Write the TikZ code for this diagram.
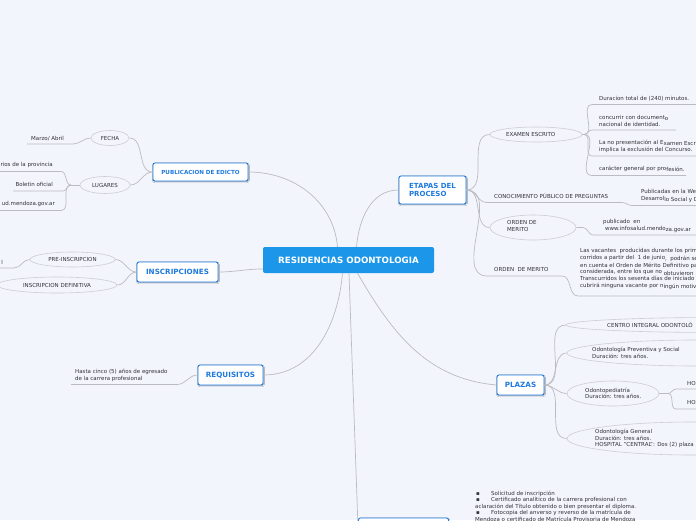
\documentclass[tikz,border=0pt]{standalone}
\usepackage{fontspec}
\setmainfont{DejaVu Sans}
\usetikzlibrary{shapes.geometric,shadows.blur}
\definecolor{bgc}{RGB}{243,245,252}
\definecolor{blu}{RGB}{30,122,222}
\definecolor{cfill}{RGB}{27,150,232}
\definecolor{lnc}{RGB}{188,188,192}
\definecolor{elc}{RGB}{205,205,210}
\definecolor{txc}{RGB}{50,50,55}
\begin{document}
\begin{tikzpicture}[x=1pt,y=1pt,
  conn/.style={draw=lnc,line width=0.7pt},
  l1/.style={draw=blu,fill=white,rounded corners=2pt,line width=0.9pt,inner sep=0pt,text=blu,
    font=\bfseries\fontsize{7.2}{8.6}\selectfont,
    blur shadow={shadow xshift=0.4pt,shadow yshift=-0.9pt,shadow blur radius=1pt,shadow opacity=35}},
  ell/.style={ellipse,draw=elc,fill=bgc,line width=0.6pt,inner sep=0pt,text=txc,font=\fontsize{5.5}{6.6}\selectfont},
  lf/.style={anchor=west,inner sep=0pt,text=txc,align=left,font=\fontsize{5.5}{6.6}\selectfont},
  lfr/.style={lf,anchor=east,align=right}]
\useasboundingbox (0,0) rectangle (696,-520);
\fill[bgc] (0,0) rectangle (696,-520);

% ---------- central node
\node[fill=cfill,rounded corners=2pt,minimum width=171pt,minimum height=26pt,inner sep=0pt,text=white,
  font=\bfseries\fontsize{8.7}{10}\selectfont] (C) at (348.5,-260) {RESIDENCIAS ODONTOLOGIA};

% ---------- level 1 boxes
\node[l1,minimum width=67pt,minimum height=28pt,align=left,font=\bfseries\fontsize{7}{8.7}\selectfont] (E) at (432.5,-190) {ETAPAS DEL\\PROCESO};
\node[l1,minimum width=95pt,minimum height=18pt,font=\bfseries\fontsize{5.6}{7}\selectfont] (PUB) at (200.5,-172) {PUBLICACION DE EDICTO};
\node[l1,minimum width=81pt,minimum height=20pt] (INS) at (177.5,-272) {INSCRIPCIONES};
\node[l1,minimum width=65pt,minimum height=20pt] (REQ) at (230.5,-375) {REQUISITOS};
\node[l1,minimum width=47pt,minimum height=20pt] (PL) at (520.5,-385) {PLAZAS};
\node[l1,minimum width=90pt,minimum height=22pt] (BOT) at (403.5,-529) {};

% ---------- connectors from the centre
\draw[conn] ([xshift=8pt]C.north) to[out=85,in=180] (E.west);
\draw[conn] ([xshift=-11pt]C.north) to[out=95,in=0] (PUB.east);
\draw[conn] ([yshift=-9pt]C.west) to[out=180,in=0] (INS.east);
\draw[conn] ([xshift=-6pt]C.south) to[out=-95,in=0] (REQ.east);
\draw[conn] ([xshift=0.5pt]C.south) to[out=-88,in=92] (BOT.west);
\draw[conn] ([xshift=9pt]C.south) to[out=-60,in=175] (PL.west);

% ---------- PUBLICACION DE EDICTO
\node[ell,minimum width=38pt,minimum height=15pt] (FE) at (110,-138) {FECHA};
\node[ell,minimum width=50pt,minimum height=17pt] (LU) at (105,-185) {LUGARES};
\draw[conn] (PUB.west) to[out=180,in=0] (FE.east);
\draw[conn] (PUB.west) to[out=180,in=0] (LU.east);
\node[lf] (marzo) at (31,-138.3) {Marzo/ Abril};
\coordinate (mz1) at (73,-144); \coordinate (mz0) at (27,-144);
\draw[conn] (FE.west) to[out=180,in=0] (mz1) -- (mz0);
\node[lfr] (diar) at (53,-165) {rios de la provincia};
\node[lfr] (bol) at (53,-184.7) {Boletin oficial};
\node[lfr] (web) at (55,-203.5) {ud.mendoza.gov.ar};
\coordinate (luj) at (71,-185);
\coordinate (d1) at (61,-171.5); \coordinate (d0) at (0,-171.5);
\coordinate (b1) at (63,-191); \coordinate (b0) at (13,-191);
\coordinate (w1) at (61,-210.5); \coordinate (w0) at (0,-210.5);
\draw[conn] (LU.west) -- (luj);
\draw[conn] (luj) to[out=180,in=0] (d1) -- (d0);
\draw[conn] (luj) to[out=180,in=0] (b1) -- (b0);
\draw[conn] (luj) to[out=180,in=0] (w1) -- (w0);

% ---------- INSCRIPCIONES
\node[ell,minimum width=85pt,minimum height=15pt] (PRE) at (72.5,-259.5) {PRE-INSCRIPCION};
\node[ell,minimum width=120pt,minimum height=16pt] (DEF) at (57,-285) {INSCRIPCION DEFINITIVA};
\draw[conn] (INS.west) to[out=180,in=0] (PRE.east);
\draw[conn] (INS.west) to[out=180,in=0] (DEF.east);
\node[lfr] (virt) at (3,-262.3) {l};
\coordinate (pr1) at (14,-268); \coordinate (pr0) at (0,-268);
\draw[conn] (PRE.west) to[out=180,in=0] (pr1) -- (pr0);

% ---------- REQUISITOS
\node[lf] (hasta) at (75,-375.3) {Hasta cinco (5) años de egresado\\de la carrera profesional};
\coordinate (rq1) at (177,-384.5); \coordinate (rq0) at (71,-384.5);
\draw[conn] (REQ.west) to[out=180,in=0] (rq1) -- (rq0);

% ---------- ETAPAS DEL PROCESO
\node[ell,minimum width=92pt,minimum height=15pt] (EX) at (536,-134.5) {};
\node[lf] (EXt) at (506,-134.5) {EXAMEN ESCRITO};
\node[ell,minimum width=86pt,minimum height=25pt] (OM) at (533,-227.5) {};
\node[lf] (OMt) at (507,-226) {ORDEN DE\\MERITO};
\node[lf] (conoc) at (494,-195.7) {CONOCIMIENTO PÚBLICO DE PREGUNTAS};
\node[lf] (om2) at (494,-269) {ORDEN\ \ DE MERITO};
\coordinate (cn0) at (487,-202.5); \coordinate (cn1) at (622,-202.5);
\coordinate (cn2) at (632,-205.5); \coordinate (cn3) at (696,-205.5);
\coordinate (or0) at (487,-276); \coordinate (or1) at (562,-276);
\coordinate (or2) at (578,-296); \coordinate (or3) at (696,-296);
\draw[conn] (E.east) to[out=0,in=180] (EX.west);
\draw[conn] (E.east) to[out=0,in=180] (cn0) -- (cn1) to[out=0,in=180] (cn2) -- (cn3);
\draw[conn] (E.east) to[out=0,in=180] (OM.west);
\draw[conn] (E.east) to[out=0,in=180] (or0) -- (or1) to[out=0,in=180] (or2) -- (or3);

% examen escrito leaves
\node[lf] (dur) at (599,-98.3) {Duracion total de (240) minutos.};
\node[lf] (conc) at (599,-120.7) {concurrir con document\raisebox{-1.3pt}{o}\\nacional de identidad.};
\node[lf] (lanop) at (599,-146.2) {La no presentación al E\raisebox{-1.3pt}{xamen Escr}\\implica la exclusión del Concurso.};
\node[lf] (carac) at (599,-169) {carácter general por pro\raisebox{-1.3pt}{fesión.}};
\coordinate (exj) at (584,-134.5);
\coordinate (x1a) at (592,-104.5); \coordinate (x1b) at (696,-104.5);
\coordinate (x2a) at (592,-130); \coordinate (x2b) at (676,-130);
\coordinate (x3a) at (592,-156); \coordinate (x3b) at (696,-156);
\coordinate (x4a) at (592,-175.5); \coordinate (x4b) at (686,-175.5);
\draw[conn] (EX.east) -- (exj);
\draw[conn] (exj) to[out=0,in=180] (x1a) -- (x1b);
\draw[conn] (exj) to[out=0,in=180] (x2a) -- (x2b);
\draw[conn] (exj) to[out=0,in=180] (x3a) -- (x3b);
\draw[conn] (exj) to[out=0,in=180] (x4a) -- (x4b);

\node[lf] (publ) at (641,-196) {Publicadas en la We\\Desarrol\raisebox{-1.3pt}{lo Social y D}};
\node[lf] (puben) at (603,-226) {publicado\ \ en\\\hspace*{2pt}www.infosalud.mendo\raisebox{-1.3pt}{za.gov.ar}};
\coordinate (om1) at (583,-227.5); \coordinate (om2a) at (593,-235); \coordinate (om3) at (696,-235);
\draw[conn] (OM.east) -- (om1) to[out=0,in=180] (om2a) -- (om3);
\node[lf] (vac) at (580,-269.2) {Las vacantes\ \ producidas durante los prim\\
corridos a partir del\ \ 1 de junio\raisebox{-1.3pt}{,\ \ podrán se}\\
en cuenta el Orden de Mérito Definitivo pa\\
considerada, entre los que no \raisebox{-1.3pt}{obtuvieron}\\
Transcurridos los sesenta días de iniciado\\
cubrirá ninguna vacante por n\raisebox{-1.3pt}{ingún motiv}};

% ---------- PLAZAS
\node[ell,minimum width=300pt,minimum height=15pt] (CE) at (716,-325) {};
\node[ell,minimum width=260pt,minimum height=26pt] (PV) at (697,-353) {};
\node[ell,minimum width=92pt,minimum height=25pt] (OP) at (613,-393.5) {};
\node[ell,minimum width=250pt,minimum height=33pt] (OG) at (692,-438.5) {};
\draw[conn] (PL.east) to[out=0,in=180] (CE.west);
\draw[conn] (PL.east) to[out=0,in=180] (PV.west);
\draw[conn] (PL.east) to[out=0,in=180] (OP.west);
\draw[conn] (PL.east) to[out=0,in=180] (OG.west);
\node[lf] (ce) at (607,-324.5) {CENTRO INTEGRAL ODONTOLÓ};
\node[lf] (pv) at (592,-353) {Odontología Preventiva y Social\\Duración: tres años.};
\node[lf] (op) at (585,-393.2) {Odontopediatría\\Duración: tres años.};
\node[lf] (og) at (595,-438.5) {Odontología General\\Duración: tres años.\\HOSPITAL "CENTRAL": Dos (2) plaza};
\node[lf] (hos1) at (687,-383.5) {HOS};
\node[lf] (hos2) at (687,-402.7) {HOS};
\coordinate (opj) at (668,-393.5);
\coordinate (h1a) at (676,-389); \coordinate (h1b) at (696,-389);
\coordinate (h2a) at (676,-409); \coordinate (h2b) at (696,-409);
\draw[conn] (OP.east) -- (opj);
\draw[conn] (opj) to[out=0,in=180] (h1a) -- (h1b);
\draw[conn] (opj) to[out=0,in=180] (h2a) -- (h2b);

% ---------- bottom list
\node[lf,font=\fontsize{5.5}{6.4}\selectfont] (lst) at (475,-506.2) {\makebox[16pt][l]{\,▪}Solicitud de inscripción\\
\makebox[16pt][l]{\,▪}Certificado analítico de la carrera profesional con\\
aclaración del Título obtenido o bien presentar el diploma.\\
\makebox[16pt][l]{\,▪}Fotocopia del anverso y reverso de la matrícula de\\
Mendoza o certificado de Matrícula Provisoria de Mendoza};
\end{tikzpicture}
\end{document}
